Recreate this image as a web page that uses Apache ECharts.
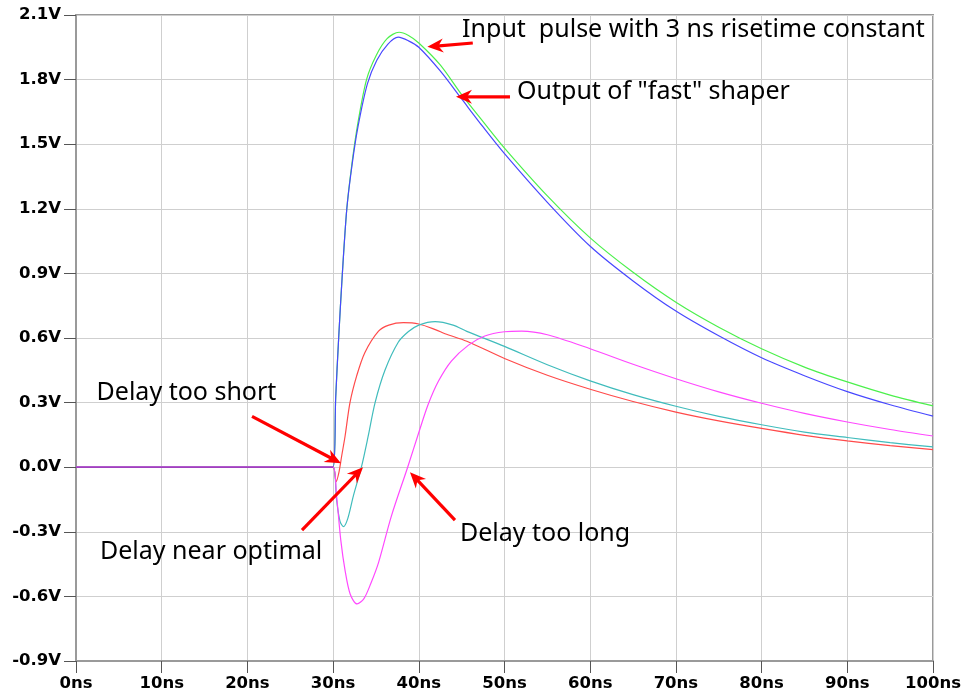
<!DOCTYPE html>
<html>
<head>
<meta charset="utf-8">
<script src="https://cdn.jsdelivr.net/npm/echarts@6/dist/echarts.min.js"></script>
<style>html,body{margin:0;padding:0;background:#fff}#c{width:967px;height:698px}</style>
</head>
<body>
<div id="c"></div>
<script>
// x ticks (ns) and y ticks (V)
const xTicks = [0, 10, 20, 30, 40, 50, 60, 70, 80, 90, 100];
const yTicks = [-0.9, -0.6, -0.3, 0.0, 0.3, 0.6, 0.9, 1.2, 1.5, 1.8, 2.1];

// Input pulse (green)  [time ns, volts]
const inputPulse = [
  [0, 0], [29, 0], [30, 0], [30.3, 0.32], [30.65, 0.6], [31.05, 0.88], [31.6, 1.2], [32.2, 1.41],
  [32.9, 1.6], [33.9, 1.8], [35.0, 1.91], [36.3, 1.99], [37.7, 2.02], [38.8, 2.005], [40, 1.97],
  [42.5, 1.868], [45, 1.73], [47.5, 1.605], [50, 1.482], [55, 1.26], [60, 1.065],
  [65, 0.905], [70, 0.766], [75, 0.65], [80, 0.55], [85, 0.465], [90, 0.396],
  [95, 0.335], [100, 0.285]
];
// Output of fast shaper (blue)
const fastShaper = [
  [0, 0], [29, 0], [30, 0], [30.3, 0.32], [30.65, 0.6], [31.05, 0.88], [31.6, 1.2], [32.2, 1.4],
  [32.9, 1.58], [34.0, 1.78], [35.1, 1.89], [36.4, 1.965], [37.6, 1.997], [38.8, 1.98], [40, 1.95],
  [42.5, 1.84], [45, 1.71], [47.5, 1.58], [50, 1.456], [55, 1.23], [60, 1.026],
  [65, 0.865], [70, 0.725], [75, 0.61], [80, 0.508], [85, 0.425], [90, 0.351],
  [95, 0.29], [100, 0.237]
];
// Delay too short (red)
const delayShort = [
  [0, 0], [29, 0], [30, 0], [30.35, -0.067], [30.7, -0.02], [31.0, 0.052], [31.4, 0.145],
  [31.97, 0.3], [32.75, 0.424], [33.7, 0.532], [35.3, 0.632], [36.5, 0.66],
  [38.2, 0.671], [40, 0.665], [42, 0.638], [43.06, 0.62], [45.6, 0.585], [50, 0.505],
  [55, 0.427], [60, 0.362], [65, 0.305], [70, 0.256], [75, 0.215], [80, 0.18],
  [85, 0.148], [90, 0.122], [95, 0.1], [100, 0.082]
];
// Delay near optimal (cyan)
const delayOptimal = [
  [0, 0], [29, 0], [30, 0], [30.4, -0.15], [30.8, -0.25], [31.2, -0.276], [31.7, -0.24],
  [32.36, -0.134], [33.3, 0.0], [34.1, 0.145], [34.9, 0.3], [36.05, 0.45],
  [37.6, 0.58], [38.8, 0.63], [40, 0.66], [41.9, 0.676], [44, 0.66], [45.6, 0.631],
  [50, 0.561], [55, 0.476], [60, 0.401], [65, 0.337], [70, 0.283], [75, 0.236],
  [80, 0.197], [85, 0.163], [90, 0.138], [95, 0.114], [100, 0.094]
];
// Delay too long (magenta)
const delayLong = [
  [0, 0], [29, 0], [30, 0], [30.4, -0.13], [30.9, -0.34], [31.4, -0.48], [32.0, -0.59],
  [32.8, -0.635], [33.6, -0.61], [34.4, -0.54], [35.3, -0.443], [36.8, -0.227],
  [38.7, 0.0], [40.0, 0.161], [41.1, 0.292], [42.3, 0.40], [43.8, 0.493], [45.8, 0.567],
  [47.7, 0.609], [50, 0.629], [52, 0.632], [55, 0.615], [60, 0.55], [65, 0.478], [70, 0.411],
  [75, 0.35], [80, 0.297], [85, 0.25], [90, 0.21], [95, 0.175], [100, 0.145]
];
// common zero baseline before the pulse (overlapping traces)
const baseline = [[0, 0], [30, 0]];

// annotations: text position and arrow (from -> to), in data coords
const notes = [
  { text: 'Input  pulse with 3 ns risetime constant', at: [45.05, 2.03], from: [46.3, 1.970], to: [41.0, 1.952] },
  { text: 'Output of "fast" shaper', at: [51.46, 1.743], from: [50.64, 1.720], to: [44.34, 1.720] },
  { text: 'Delay too short', at: [2.4, 0.345], from: [20.54, 0.236], to: [30.92, 0.018] },
  { text: 'Delay near optimal', at: [2.8, -0.394], from: [26.37, -0.292], to: [33.49, 0.0] },
  { text: 'Delay too long', at: [44.8, -0.311], from: [44.22, -0.246], to: [38.97, -0.023] }
];

const chart = echarts.init(document.getElementById('c'));
const lineSeries = (name, data, color) => ({
  name, type: 'line', data, showSymbol: false, symbol: 'none',
  smooth: 0.3,
  lineStyle: { color, width: 1.2 }, animation: false, z: 3
});
chart.setOption({
  animation: false,
  backgroundColor: '#fff',
  grid: { left: 76, top: 15, right: 34, bottom: 37, show: true, borderColor: '#9a9a9a', borderWidth: 2 },
  xAxis: {
    type: 'value', min: xTicks[0], max: xTicks[xTicks.length - 1], interval: 10,
    axisLine: { show: true, onZero: false, lineStyle: { color: '#9a9a9a', width: 2 } },
    axisTick: { show: true, length: 12, inside: false, lineStyle: { color: '#555', width: 1 } },
    axisLabel: { margin: 14, color: '#000', fontFamily: 'DejaVu Sans', fontWeight: 'bold', fontSize: 16.5,
      formatter: v => v + 'ns' },
    splitLine: { show: true, lineStyle: { color: '#cfcfcf', width: 1 } }
  },
  yAxis: {
    type: 'value', min: yTicks[0], max: yTicks[yTicks.length - 1], interval: 0.3,
    axisLine: { show: true, onZero: false, lineStyle: { color: '#9a9a9a', width: 2 } },
    axisTick: { show: true, length: 12, inside: false, lineStyle: { color: '#555', width: 1 } },
    axisLabel: { margin: 15, color: '#000', fontFamily: 'DejaVu Sans', fontWeight: 'bold', fontSize: 16.5,
      formatter: v => v.toFixed(1) + 'V' },
    splitLine: { show: true, lineStyle: { color: '#cfcfcf', width: 1 } }
  },
  series: [
    lineSeries('Input pulse', inputPulse, '#4cf04c'),
    lineSeries('Fast shaper', fastShaper, '#4848ff'),
    lineSeries('Delay too short', delayShort, '#ff4a4a'),
    lineSeries('Delay near optimal', delayOptimal, '#40bcbc'),
    lineSeries('Delay too long', delayLong, '#ff48ff'),
    Object.assign(lineSeries('baseline', baseline, '#a040c0'), { smooth: false, lineStyle: { color: '#a040c0', width: 1.6 } })
  ]
});

// build annotations from data coordinates
const g = [];
notes.forEach(n => {
  const p = chart.convertToPixel({ gridIndex: 0 }, n.at);
  g.push({ type: 'text', x: p[0], y: p[1], z: 10,
    style: { text: n.text, font: '25px "Noto Sans"', fill: '#000', verticalAlign: 'middle', align: 'left' } });
  const a = chart.convertToPixel({ gridIndex: 0 }, n.from);
  const b = chart.convertToPixel({ gridIndex: 0 }, n.to);
  const dx = b[0] - a[0], dy = b[1] - a[1];
  const L = Math.sqrt(dx * dx + dy * dy), ux = dx / L, uy = dy / L;
  const hl = 16, hw = 7;
  const bx = b[0] - ux * hl, by = b[1] - uy * hl;
  const nx = -uy, ny = ux;
  g.push({ type: 'line', z: 10, shape: { x1: a[0], y1: a[1], x2: b[0] - ux * 6, y2: b[1] - uy * 6 },
    style: { stroke: '#ff0000', lineWidth: 3.2 } });
  g.push({ type: 'polygon', z: 10, shape: { points: [
      [b[0], b[1]], [bx + nx * hw, by + ny * hw], [b[0] - ux * 11, b[1] - uy * 11], [bx - nx * hw, by - ny * hw]] },
    style: { fill: '#ff0000' } });
});
chart.setOption({ graphic: g });
</script>
</body>
</html>
